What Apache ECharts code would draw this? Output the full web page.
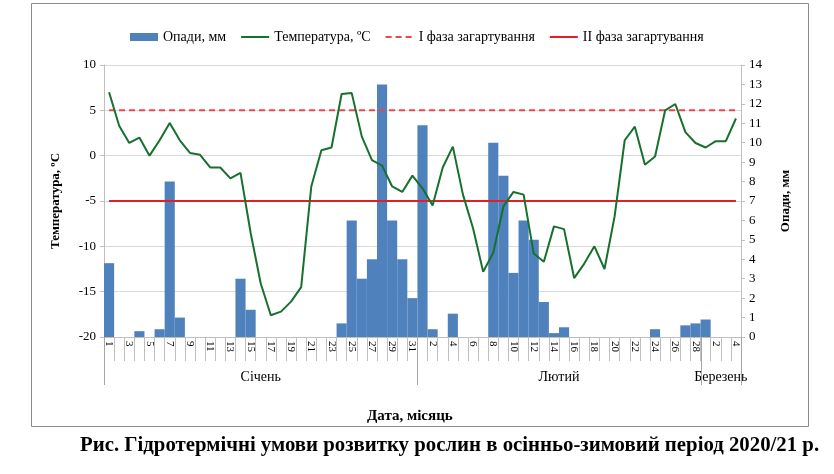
<!DOCTYPE html>
<html>
<head>
<meta charset="utf-8">
<script src="https://cdn.jsdelivr.net/npm/echarts@6/dist/echarts.min.js"></script>
<style>
  html, body { margin: 0; padding: 0; background: #fff; }
  #chart { width: 834px; height: 474px; }
</style>
</head>
<body>
<div id="chart"></div>
<script>
// months and how many days of each are shown
const months = ['Січень', 'Лютий', 'Березень']
const monthDays = [31, 28, 4]

// day labels (1..31, 1..28, 1..4)
const days = []
monthDays.forEach((n) => { for (let d = 1; d <= n; d++) days.push(String(d)) })

// daily mean temperature, °C
const temperature = [
  7.0, 3.3, 1.4, 2.0, 0.0, 1.7, 3.6, 1.7, 0.3, 0.1,
  -1.3, -1.3, -2.5, -1.9, -8.5, -14.1, -17.6, -17.2, -16.1, -14.5,
  -3.4, 0.6, 0.9, 6.8, 6.9, 2.1, -0.5, -1.1, -3.4, -4.0, -2.2,
  // Лютий
  -3.6, -5.5, -1.3, 1.0, -4.3, -8.0, -12.8, -10.7, -5.6, -4.0,
  -4.3, -10.8, -11.7, -7.8, -8.1, -13.5, -11.9, -10.0, -12.5, -6.7,
  1.7, 3.2, -1.0, -0.1, 5.0, 5.7, 2.6, 1.4,
  // Березень
  0.9, 1.6, 1.6, 4.1
]

// daily precipitation, mm
const precipitation = [
  3.8, 0, 0, 0.3, 0, 0.4, 8.0, 1.0, 0, 0,
  0, 0, 0, 3.0, 1.4, 0, 0, 0, 0, 0,
  0, 0, 0, 0.7, 6.0, 3.0, 4.0, 13.0, 6.0, 4.0, 2.0,
  // Лютий
  10.9, 0.4, 0, 1.2, 0, 0, 0, 10.0, 8.3, 3.3,
  6.0, 5.0, 1.8, 0.2, 0.5, 0, 0, 0, 0, 0,
  0, 0, 0, 0.4, 0, 0, 0.6, 0.7,
  // Березень
  0.9, 0, 0, 0
]

// hardening phase thresholds, °C
const phaseI = 5
const phaseII = -5

// month boundaries on the day axis and label centres
const monthEdges = [0]
monthDays.forEach((n, i) => monthEdges.push(monthEdges[i] + n))
const monthMids = monthDays.map((n, i) => monthEdges[i] + n / 2)
const dayCount = monthEdges[monthEdges.length - 1]

const serif = '"Liberation Serif", "DejaVu Serif", serif'
const gridGray = '#d9d9d9'
const axisGray = '#bfbfbf'

const chart = echarts.init(document.getElementById('chart'))
chart.setOption({
  animation: false,
  textStyle: { fontFamily: serif, color: '#000' },
  title: [
    {
      text: 'Дата, місяць', left: 362, top: 404,
      textStyle: { fontFamily: serif, fontSize: 15, fontWeight: 'bold', color: '#000' }
    },
    {
      text: 'Рис. Гідротермічні умови розвитку рослин в осінньо-зимовий період 2020/21 р.',
      left: 75, top: 430,
      textStyle: { fontFamily: serif, fontSize: 20.8, fontWeight: 'bold', color: '#000' }
    }
  ],
  legend: {
    left: 125, top: 25,
    itemWidth: 28, itemHeight: 8, itemGap: 14,
    textStyle: { fontFamily: serif, fontSize: 14, color: '#000' },
    data: [
      { name: 'Опади, мм', icon: 'rect' },
      { name: 'Температура, ºC', itemStyle: { opacity: 0 } },
      { name: 'I фаза загартування', itemStyle: { opacity: 0 } },
      { name: 'II фаза загартування', itemStyle: { opacity: 0 } }
    ]
  },
  grid: { left: 104, right: 93, top: 65, bottom: 137 },
  xAxis: [
    {
      // day of month
      type: 'category',
      data: days,
      boundaryGap: true,
      axisLine: { onZero: false, lineStyle: { color: axisGray } },
      axisTick: { show: true, interval: 0, length: 24, lineStyle: { color: axisGray } },
      axisLabel: {
        interval: 1, rotate: -90, margin: 4,
        fontFamily: serif, fontSize: 11, color: '#000'
      },
      splitLine: { show: false }
    },
    {
      // month names, centred under each month
      type: 'value',
      position: 'bottom',
      min: 0, max: dayCount,
      axisLine: { show: false, onZero: false },
      axisTick: { show: false },
      axisLabel: {
        customValues: monthMids, margin: 33,
        fontFamily: serif, fontSize: 14, color: '#000',
        formatter: (v) => months[monthMids.indexOf(v)]
      },
      splitLine: { show: false }
    }
  ],
  yAxis: [
    {
      type: 'value', min: -20, max: 10, interval: 5,
      name: 'Температура, ºC', nameLocation: 'middle', nameGap: 42, nameRotate: 90,
      nameTextStyle: { fontFamily: serif, fontSize: 13, fontWeight: 'bold', color: '#000' },
      axisLine: { show: true, lineStyle: { color: axisGray } },
      axisTick: { show: true, length: 4, lineStyle: { color: axisGray } },
      axisLabel: { margin: 8, fontFamily: serif, fontSize: 13, color: '#000' },
      splitLine: { lineStyle: { color: gridGray } }
    },
    {
      type: 'value', min: 0, max: 14, interval: 1, position: 'right',
      name: 'Опади, мм', nameLocation: 'middle', nameGap: 38, nameRotate: 90,
      nameTextStyle: { fontFamily: serif, fontSize: 13, fontWeight: 'bold', color: '#000' },
      axisLine: { show: true, lineStyle: { color: axisGray } },
      axisTick: { show: true, length: 4, lineStyle: { color: axisGray } },
      axisLabel: { margin: 8, fontFamily: serif, fontSize: 13, color: '#000' },
      splitLine: { show: false }
    }
  ],
  series: [
    {
      name: 'Опади, мм', type: 'bar', yAxisIndex: 1,
      data: precipitation,
      barCategoryGap: '0%',
      itemStyle: { color: '#4f81bd' },
      z: 1
    },
    {
      name: 'I фаза загартування', type: 'line', symbol: 'none',
      data: [[0, phaseI], [days.length - 1, phaseI]],
      lineStyle: { color: '#e8474c', width: 2, type: [6, 4] },
      itemStyle: { color: '#e8474c' },
      z: 2
    },
    {
      name: 'II фаза загартування', type: 'line', symbol: 'none',
      data: [[0, phaseII], [days.length - 1, phaseII]],
      lineStyle: { color: '#e21f26', width: 2 },
      itemStyle: { color: '#e21f26' },
      z: 2
    },
    {
      name: 'Температура, ºC', type: 'line', symbol: 'none',
      data: temperature,
      lineStyle: { color: '#17702e', width: 2 },
      itemStyle: { color: '#17702e' },
      z: 3
    }
  ]
})

// outer frame + month separators under the day labels (placed through the axis scales)
const axisY = chart.convertToPixel({ yAxisIndex: 0 }, -20)
const separators = monthEdges.map((d) => {
  const x = Math.round(chart.convertToPixel({ xAxisIndex: 1 }, d)) + 0.5
  return {
    type: 'line', silent: true, z: 100,
    shape: { x1: x, y1: axisY, x2: x, y2: axisY + 48 },
    style: { stroke: '#a6a6a6', lineWidth: 1 }
  }
})
chart.setOption({
  graphic: [
    {
      type: 'rect', silent: true,
      shape: { x: 31.5, y: 3.5, width: 777, height: 423 },
      style: { fill: 'none', stroke: '#8c8c8c', lineWidth: 1 }
    },
    ...separators
  ]
})
</script>
</body>
</html>
